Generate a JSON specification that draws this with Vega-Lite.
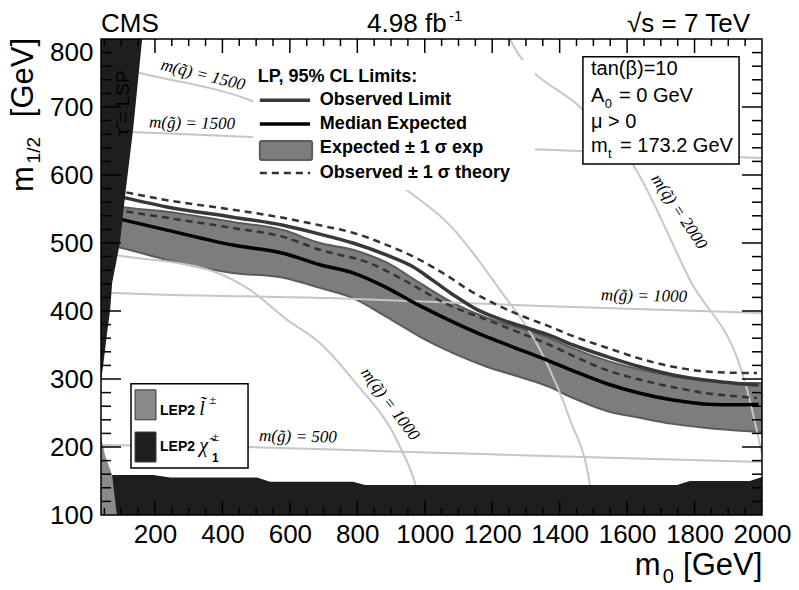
{
"$schema": "https://vega.github.io/schema/vega-lite/v6.json",
"width": 661, "height": 476,
"autosize": {"type": "none"},
"padding": {"left": 101, "top": 39, "right": 37, "bottom": 75},
"background": "white",
"config": {"view": {"stroke": null}, "axis": {"grid": false, "zindex": 1}},
"datasets": {
"band": [{"m0":60,"lo":497,"hi":557},{"m0":90,"lo":494,"hi":554},{"m0":236,"lo":475,"hi":546},{"m0":431,"lo":456,"hi":531},{"m0":580,"lo":449,"hi":519},{"m0":689,"lo":434,"hi":500},{"m0":787,"lo":419,"hi":490},{"m0":888,"lo":391,"hi":471},{"m0":986,"lo":362,"hi":441},{"m0":1084,"lo":338,"hi":412},{"m0":1184,"lo":318,"hi":390},{"m0":1282,"lo":303,"hi":375},{"m0":1371,"lo":288,"hi":360},{"m0":1440,"lo":272,"hi":345},{"m0":1540,"lo":253,"hi":327},{"m0":1638,"lo":243,"hi":314},{"m0":1736,"lo":234,"hi":304},{"m0":1837,"lo":228,"hi":297},{"m0":1935,"lo":224,"hi":294},{"m0":2000,"lo":222,"hi":294}],
"obs": [{"m0":80,"m12":570},{"m0":236,"m12":553},{"m0":431,"m12":538},{"m0":580,"m12":526},{"m0":689,"m12":513},{"m0":787,"m12":500},{"m0":888,"m12":482},{"m0":965,"m12":465},{"m0":1024,"m12":445},{"m0":1084,"m12":424},{"m0":1155,"m12":402},{"m0":1223,"m12":388},{"m0":1303,"m12":375},{"m0":1371,"m12":364},{"m0":1440,"m12":350},{"m0":1540,"m12":333},{"m0":1638,"m12":318},{"m0":1736,"m12":306},{"m0":1837,"m12":298},{"m0":1935,"m12":293},{"m0":1990,"m12":291}],
"exp": [{"m0":80,"m12":537},{"m0":236,"m12":519},{"m0":431,"m12":497},{"m0":580,"m12":485},{"m0":689,"m12":468},{"m0":787,"m12":456},{"m0":888,"m12":434},{"m0":965,"m12":413},{"m0":1066,"m12":388},{"m0":1164,"m12":366},{"m0":1262,"m12":347},{"m0":1371,"m12":326},{"m0":1440,"m12":312},{"m0":1540,"m12":293},{"m0":1638,"m12":279},{"m0":1736,"m12":269},{"m0":1837,"m12":263},{"m0":1935,"m12":262},{"m0":1990,"m12":263}],
"thup": [{"m0":80,"m12":578},{"m0":236,"m12":563},{"m0":431,"m12":549},{"m0":580,"m12":537},{"m0":689,"m12":526},{"m0":787,"m12":515},{"m0":888,"m12":497},{"m0":986,"m12":475},{"m0":1066,"m12":452},{"m0":1134,"m12":430},{"m0":1202,"m12":412},{"m0":1282,"m12":394},{"m0":1371,"m12":377},{"m0":1440,"m12":363},{"m0":1540,"m12":346},{"m0":1638,"m12":330},{"m0":1736,"m12":318},{"m0":1837,"m12":311},{"m0":1935,"m12":309},{"m0":1985,"m12":309}],
"thdn": [{"m0":80,"m12":549},{"m0":236,"m12":537},{"m0":431,"m12":522},{"m0":580,"m12":509},{"m0":689,"m12":490},{"m0":838,"m12":470},{"m0":947,"m12":443},{"m0":1066,"m12":410},{"m0":1184,"m12":387},{"m0":1282,"m12":368},{"m0":1371,"m12":350},{"m0":1440,"m12":334},{"m0":1540,"m12":313},{"m0":1638,"m12":299},{"m0":1736,"m12":288},{"m0":1837,"m12":279},{"m0":1935,"m12":274},{"m0":1985,"m12":272}],
"iso": [
{"curve":"q1000","m0":40,"m12":486},{"curve":"q1000","m0":87,"m12":482},{"curve":"q1000","m0":363,"m12":460},{"curve":"q1000","m0":482,"m12":431},{"curve":"q1000","m0":592,"m12":387},{"curve":"q1000","m0":689,"m12":353},{"curve":"q1000","m0":787,"m12":299},{"curve":"q1000","m0":927,"m12":200},{"curve":"q1000","m0":971,"m12":147},{"curve":"q1000","m0":990,"m12":110},
{"curve":"q1500","m0":40,"m12":765},{"curve":"q1500","m0":147,"m12":751},{"curve":"q1500","m0":482,"m12":710},{"curve":"q1500","m0":935,"m12":582},{"curve":"q1500","m0":1075,"m12":526},{"curve":"q1500","m0":1223,"m12":431},{"curve":"q1500","m0":1342,"m12":343},{"curve":"q1500","m0":1431,"m12":240},{"curve":"q1500","m0":1490,"m12":144},{"curve":"q1500","m0":1500,"m12":110},
{"curve":"q2000","m0":1230,"m12":830},{"curve":"q2000","m0":1253,"m12":799},{"curve":"q2000","m0":1469,"m12":696},{"curve":"q2000","m0":1609,"m12":622},{"curve":"q2000","m0":1786,"m12":446},{"curve":"q2000","m0":1956,"m12":284},{"curve":"q2000","m0":2000,"m12":190},
{"curve":"g1500","m0":40,"m12":665},{"curve":"g1500","m0":147,"m12":663},{"curve":"g1500","m0":482,"m12":656},{"curve":"g1500","m0":1321,"m12":638},{"curve":"g1500","m0":2000,"m12":625},
{"curve":"g1000","m0":40,"m12":428},{"curve":"g1000","m0":67,"m12":427},{"curve":"g1000","m0":719,"m12":419},{"curve":"g1000","m0":1371,"m12":407},{"curve":"g1000","m0":2000,"m12":397},
{"curve":"g500","m0":40,"m12":203},{"curve":"g500","m0":476,"m12":200},{"curve":"g500","m0":927,"m12":193},{"curve":"g500","m0":1282,"m12":188},{"curve":"g500","m0":2000,"m12":178}],
"stau": [{"m12":299,"m0":40},{"m12":318,"m0":46},{"m12":368,"m0":58},{"m12":401,"m0":67},{"m12":441,"m0":73},{"m12":500,"m0":96},{"m12":568,"m0":111},{"m12":666,"m0":135},{"m12":800,"m0":162}],
"chargino": [{"m0":40,"m12":159},{"m0":195,"m12":159},{"m0":245,"m12":155},{"m0":503,"m12":155},{"m0":541,"m12":149},{"m0":787,"m12":149},{"m0":823,"m12":144},{"m0":1748,"m12":144},{"m0":1786,"m12":150},{"m0":1964,"m12":150},{"m0":2000,"m12":156}],
"slepton": [{"m12":100,"m0":87},{"m12":159,"m0":73},{"m12":188,"m0":52},{"m12":215,"m0":40}],
"xmaj": [{"m0":200},{"m0":400},{"m0":600},{"m0":800},{"m0":1000},{"m0":1200},{"m0":1400},{"m0":1600},{"m0":1800}],
"xmin": [{"m0":50},{"m0":100},{"m0":150},{"m0":250},{"m0":300},{"m0":350},{"m0":450},{"m0":500},{"m0":550},{"m0":650},{"m0":700},{"m0":750},{"m0":850},{"m0":900},{"m0":950},{"m0":1050},{"m0":1100},{"m0":1150},{"m0":1250},{"m0":1300},{"m0":1350},{"m0":1450},{"m0":1500},{"m0":1550},{"m0":1650},{"m0":1700},{"m0":1750},{"m0":1850},{"m0":1900},{"m0":1950}],
"ymaj": [{"m12":200},{"m12":300},{"m12":400},{"m12":500},{"m12":600},{"m12":700}],
"ymin": [{"m12":120},{"m12":140},{"m12":160},{"m12":180},{"m12":220},{"m12":240},{"m12":260},{"m12":280},{"m12":320},{"m12":340},{"m12":360},{"m12":380},{"m12":420},{"m12":440},{"m12":460},{"m12":480},{"m12":520},{"m12":540},{"m12":560},{"m12":580},{"m12":620},{"m12":640},{"m12":660},{"m12":680},{"m12":720},{"m12":740},{"m12":760},{"m12":780}],
"boxes": [{"kind":"legbg","m0":491,"m0b":1327,"m12":578,"m12b":769},{"kind":"info","m0":1469,"m0b":1932,"m12":616,"m12b":774},{"kind":"lep","m0":129,"m0b":476,"m12":169,"m12b":293},{"kind":"frame","m0":40,"m0b":2000,"m12":100,"m12b":800}],
"legline": [{"item":"obs","m0":511,"m0b":660,"m12":710},{"item":"exp","m0":511,"m0b":660,"m12":675},{"item":"dash","m0":511,"m0b":660,"m12":603}],
"legrect": [{"item":"band","m0":511,"m0b":666,"m12":622,"m12b":650},{"item":"slep","m0":141,"m0b":203,"m12":240,"m12b":284},{"item":"chi","m0":141,"m0b":203,"m12":178,"m12b":222}],
"hdr": [{"t":"CMS","m0":40,"m12":810},{"t":"4.98 fb","m0":829,"m12":810},{"t":"\u221as = 7 TeV","m0":1600,"m12":810}],
"hdrsup": [{"t":"-1","m0":1072,"m12":826}],
"xtitle": [{"t":"m","m0":1623,"m12":12},{"t":"[GeV]","m0":1766,"m12":12}],
"xsub": [{"t":"0","m0":1706,"m12":0}],
"ytitle": [{"t":"m","m0":-162,"m12":575},{"t":"[GeV]","m0":-162,"m12":685}],
"ysub": [{"t":"1/2","m0":-141,"m12":617}],
"isolab": [{"t":"m(q\u0303) = 1500","grp":"a14","m0":342,"m12":747},{"t":"m(g\u0303) = 1500","grp":"a2","m0":310,"m12":676},{"t":"m(g\u0303) = 1000","grp":"a2","m0":1650,"m12":422},{"t":"m(g\u0303) = 500","grp":"a2","m0":624,"m12":215},{"t":"m(q\u0303) = 1000","grp":"a53","m0":897,"m12":263},{"t":"m(q\u0303) = 2000","grp":"a56","m0":1754,"m12":546}],
"tau": [{"t":"\u03c4\u0303 = LSP","m0":105,"m12":706}],
"legtxt": [{"t":"LP, 95% CL Limits:","m0":505,"m12":744},{"t":"Observed Limit","m0":689,"m12":710},{"t":"Median Expected","m0":689,"m12":675},{"t":"Expected \u00b1 1 \u03c3 exp","m0":689,"m12":640},{"t":"Observed \u00b1 1 \u03c3 theory","m0":689,"m12":603}],
"leptxt": [{"t":"LEP2","m0":215,"m12":253},{"t":"LEP2","m0":215,"m12":200}],
"lepsym": [{"t":"l\u0303","m0":331,"m12":247},{"t":"\u03c7\u0303","m0":331,"m12":193}],
"lepsup": [{"t":"\u00b1","m0":361,"m12":263},{"t":"\u00b1","m0":369,"m12":209}],
"lepsub": [{"t":"1","m0":369,"m12":178}],
"info": [{"t":"tan(\u03b2)=10","m0":1493,"m12":747},{"t":"A","m0":1493,"m12":707},{"t":"= 0 GeV","m0":1576,"m12":707},{"t":"\u03bc > 0","m0":1493,"m12":669},{"t":"m","m0":1493,"m12":634},{"t":"= 173.2 GeV","m0":1579,"m12":634}],
"infosub": [{"t":"0","m0":1534,"m12":699},{"t":"t","m0":1543,"m12":625}]
},
"layer": [
{"data":{"name":"band"},"mark":{"type":"area","clip":true,"fill":"#7d7d7d","stroke":"#5b5b5b","strokeWidth":2,"interpolate":"monotone"},
 "encoding":{
  "x":{"field":"m0","type":"quantitative","scale":{"domain":[40,2000],"nice":false,"zero":false},"axis":{"orient":"bottom","values":[200,400,600,800,1000,1200,1400,1600,1800,2000],"format":"d","ticks":false,"domain":false,"labelFont":"Liberation Sans","labelFontSize":26,"labelColor":"#000","labelPadding":6,"labelFlush":false,"labelOverlap":false,"title":null}},
  "y":{"field":"hi","type":"quantitative","scale":{"domain":[100,800],"nice":false,"zero":false},"axis":{"orient":"left","values":[100,200,300,400,500,600,700,800],"format":"d","ticks":false,"domain":false,"labelFont":"Liberation Sans","labelFontSize":26,"labelColor":"#000","labelPadding":8,"labelFlush":false,"labelOverlap":false,"title":null,"labelBaseline":{"condition":{"test":"datum.value >= 800","value":"top"},"value":"middle"}}},
  "y2":{"field":"lo"}}},
{
"encoding": {
"x": {"field":"m0","type":"quantitative","scale":{"domain":[40,2000],"nice":false,"zero":false},"axis":null},
"y": {"field":"m12","type":"quantitative","scale":{"domain":[100,800],"nice":false,"zero":false},"axis":null}
},
"layer": [
{"data":{"name":"iso"},"mark":{"type":"line","clip":true,"color":"#c6c6c6","strokeWidth":2,"interpolate":"monotone"},"encoding":{"detail":{"field":"curve"}}},
{"data":{"name":"thdn"},"mark":{"type":"line","clip":true,"color":"#333333","strokeWidth":2.5,"strokeDash":[7,5],"interpolate":"monotone"}},
{"data":{"name":"thup"},"mark":{"type":"line","clip":true,"color":"#333333","strokeWidth":2.5,"strokeDash":[7,5],"interpolate":"monotone"}},
{"data":{"name":"exp"},"mark":{"type":"line","clip":true,"color":"#000000","strokeWidth":3.5,"interpolate":"monotone"}},
{"data":{"name":"obs"},"mark":{"type":"line","clip":true,"color":"#383838","strokeWidth":3.5,"interpolate":"monotone"}},
{"data":{"name":"chargino"},"mark":{"type":"area","clip":true,"color":"#1e1e1e","interpolate":"linear"},"encoding":{"y2":{"datum":100}}},
{"data":{"name":"stau"},"mark":{"type":"area","orient":"horizontal","clip":true,"color":"#1e1e1e","interpolate":"linear"},"encoding":{"x2":{"datum":40}}},
{"data":{"name":"slepton"},"mark":{"type":"area","orient":"horizontal","clip":true,"color":"#8a8a8a","interpolate":"linear"},"encoding":{"x2":{"datum":40}}},
{"data":{"name":"isolab"},"transform":[{"filter":"datum.grp == 'a2'"}],"mark":{"type":"text","font":"Liberation Serif","fontStyle":"italic","fontSize":17,"color":"#000","align":"center","baseline":"middle","angle":1},"encoding":{"text":{"field":"t"}}},
{"data":{"name":"isolab"},"transform":[{"filter":"datum.grp == 'a14'"}],"mark":{"type":"text","font":"Liberation Serif","fontStyle":"italic","fontSize":17,"color":"#000","align":"center","baseline":"middle","angle":14},"encoding":{"text":{"field":"t"}}},
{"data":{"name":"isolab"},"transform":[{"filter":"datum.grp == 'a53'"}],"mark":{"type":"text","font":"Liberation Serif","fontStyle":"italic","fontSize":17,"color":"#000","align":"center","baseline":"middle","angle":53},"encoding":{"text":{"field":"t"}}},
{"data":{"name":"isolab"},"transform":[{"filter":"datum.grp == 'a56'"}],"mark":{"type":"text","font":"Liberation Serif","fontStyle":"italic","fontSize":17,"color":"#000","align":"center","baseline":"middle","angle":56},"encoding":{"text":{"field":"t"}}},
{"data":{"name":"tau"},"mark":{"type":"text","font":"Liberation Sans","fontSize":19,"color":"#000","align":"center","baseline":"middle","angle":-90},"encoding":{"text":{"field":"t"}}},
{"data":{"name":"boxes"},"transform":[{"filter":"datum.kind == 'legbg'"}],"mark":{"type":"rect","color":"#ffffff"},"encoding":{"x2":{"field":"m0b"},"y2":{"field":"m12b"}}},
{"data":{"name":"boxes"},"transform":[{"filter":"datum.kind == 'info' || datum.kind == 'lep'"}],"mark":{"type":"rect","fill":"#ffffff","stroke":"#000000","strokeWidth":1.5},"encoding":{"x2":{"field":"m0b"},"y2":{"field":"m12b"}}},
{"data":{"name":"legline"},"transform":[{"filter":"datum.item == 'obs'"}],"mark":{"type":"rule","color":"#383838","strokeWidth":3.5},"encoding":{"x2":{"field":"m0b"}}},
{"data":{"name":"legline"},"transform":[{"filter":"datum.item == 'exp'"}],"mark":{"type":"rule","color":"#000000","strokeWidth":3.5},"encoding":{"x2":{"field":"m0b"}}},
{"data":{"name":"legline"},"transform":[{"filter":"datum.item == 'dash'"}],"mark":{"type":"rule","color":"#333333","strokeWidth":2.5,"strokeDash":[7,5]},"encoding":{"x2":{"field":"m0b"}}},
{"data":{"name":"legrect"},"transform":[{"filter":"datum.item == 'band'"}],"mark":{"type":"rect","fill":"#7d7d7d","stroke":"#5b5b5b","strokeWidth":2,"cornerRadius":2},"encoding":{"x2":{"field":"m0b"},"y2":{"field":"m12b"}}},
{"data":{"name":"legrect"},"transform":[{"filter":"datum.item == 'slep'"}],"mark":{"type":"rect","fill":"#8a8a8a","stroke":"#333333","strokeWidth":1},"encoding":{"x2":{"field":"m0b"},"y2":{"field":"m12b"}}},
{"data":{"name":"legrect"},"transform":[{"filter":"datum.item == 'chi'"}],"mark":{"type":"rect","fill":"#1e1e1e","stroke":"#333333","strokeWidth":1},"encoding":{"x2":{"field":"m0b"},"y2":{"field":"m12b"}}},
{"data":{"name":"legtxt"},"mark":{"type":"text","font":"Liberation Sans","fontWeight":"bold","fontSize":18,"color":"#000","align":"left","baseline":"middle"},"encoding":{"text":{"field":"t"}}},
{"data":{"name":"leptxt"},"mark":{"type":"text","font":"Liberation Sans","fontWeight":"bold","fontSize":14,"color":"#000","align":"left","baseline":"middle"},"encoding":{"text":{"field":"t"}}},
{"data":{"name":"lepsym"},"mark":{"type":"text","font":"Liberation Serif","fontStyle":"italic","fontSize":20,"color":"#000","align":"left","baseline":"alphabetic"},"encoding":{"text":{"field":"t"}}},
{"data":{"name":"lepsup"},"mark":{"type":"text","font":"Liberation Serif","fontSize":13,"color":"#000","align":"left","baseline":"alphabetic"},"encoding":{"text":{"field":"t"}}},
{"data":{"name":"lepsub"},"mark":{"type":"text","font":"Liberation Sans","fontWeight":"bold","fontSize":12,"color":"#000","align":"left","baseline":"alphabetic"},"encoding":{"text":{"field":"t"}}},
{"data":{"name":"info"},"mark":{"type":"text","font":"Liberation Sans","fontSize":20,"color":"#000","align":"left","baseline":"alphabetic"},"encoding":{"text":{"field":"t"}}},
{"data":{"name":"infosub"},"mark":{"type":"text","font":"Liberation Sans","fontSize":13,"color":"#000","align":"left","baseline":"alphabetic"},"encoding":{"text":{"field":"t"}}},
{"data":{"name":"hdr"},"mark":{"type":"text","font":"Liberation Sans","fontSize":26,"color":"#000","align":"left","baseline":"alphabetic"},"encoding":{"text":{"field":"t"}}},
{"data":{"name":"hdrsup"},"mark":{"type":"text","font":"Liberation Sans","fontSize":15,"color":"#000","align":"left","baseline":"alphabetic"},"encoding":{"text":{"field":"t"}}},
{"data":{"name":"xtitle"},"mark":{"type":"text","font":"Liberation Sans","fontSize":31,"color":"#000","align":"left","baseline":"alphabetic"},"encoding":{"text":{"field":"t"}}},
{"data":{"name":"xsub"},"mark":{"type":"text","font":"Liberation Sans","fontSize":20,"color":"#000","align":"left","baseline":"alphabetic"},"encoding":{"text":{"field":"t"}}},
{"data":{"name":"ytitle"},"mark":{"type":"text","font":"Liberation Sans","fontSize":31,"color":"#000","align":"left","baseline":"alphabetic","angle":-90},"encoding":{"text":{"field":"t"}}},
{"data":{"name":"ysub"},"mark":{"type":"text","font":"Liberation Sans","fontSize":19,"color":"#000","align":"left","baseline":"alphabetic","angle":-90},"encoding":{"text":{"field":"t"}}},
{"data":{"name":"boxes"},"transform":[{"filter":"datum.kind == 'frame'"}],"mark":{"type":"rect","filled":false,"color":"#000000","strokeWidth":1.5},"encoding":{"x2":{"field":"m0b"},"y2":{"field":"m12b"}}}
]
},
{"data":{"name":"xmaj"},"mark":{"type":"rule","color":"#000000","strokeWidth":1.5},"encoding":{"x":{"field":"m0","type":"quantitative","scale":{"domain":[40,2000],"nice":false,"zero":false},"axis":null},"y":{"datum":100,"type":"quantitative","scale":{"domain":[100,800],"nice":false,"zero":false},"axis":null},"y2":{"datum":120.6}}},
{"data":{"name":"xmaj"},"mark":{"type":"rule","color":"#000000","strokeWidth":1.5},"encoding":{"x":{"field":"m0","type":"quantitative","scale":{"domain":[40,2000],"nice":false,"zero":false},"axis":null},"y":{"datum":800,"type":"quantitative","scale":{"domain":[100,800],"nice":false,"zero":false},"axis":null},"y2":{"datum":779.4}}},
{"data":{"name":"xmin"},"mark":{"type":"rule","color":"#000000","strokeWidth":1.5},"encoding":{"x":{"field":"m0","type":"quantitative","scale":{"domain":[40,2000],"nice":false,"zero":false},"axis":null},"y":{"datum":100,"type":"quantitative","scale":{"domain":[100,800],"nice":false,"zero":false},"axis":null},"y2":{"datum":110.3}}},
{"data":{"name":"xmin"},"mark":{"type":"rule","color":"#000000","strokeWidth":1.5},"encoding":{"x":{"field":"m0","type":"quantitative","scale":{"domain":[40,2000],"nice":false,"zero":false},"axis":null},"y":{"datum":800,"type":"quantitative","scale":{"domain":[100,800],"nice":false,"zero":false},"axis":null},"y2":{"datum":789.7}}},
{"data":{"name":"ymaj"},"mark":{"type":"rule","color":"#000000","strokeWidth":1.5},"encoding":{"y":{"field":"m12","type":"quantitative","scale":{"domain":[100,800],"nice":false,"zero":false},"axis":null},"x":{"datum":40,"type":"quantitative","scale":{"domain":[40,2000],"nice":false,"zero":false},"axis":null},"x2":{"datum":99.3}}},
{"data":{"name":"ymaj"},"mark":{"type":"rule","color":"#000000","strokeWidth":1.5},"encoding":{"y":{"field":"m12","type":"quantitative","scale":{"domain":[100,800],"nice":false,"zero":false},"axis":null},"x":{"datum":2000,"type":"quantitative","scale":{"domain":[40,2000],"nice":false,"zero":false},"axis":null},"x2":{"datum":1940.7}}},
{"data":{"name":"ymin"},"mark":{"type":"rule","color":"#000000","strokeWidth":1.5},"encoding":{"y":{"field":"m12","type":"quantitative","scale":{"domain":[100,800],"nice":false,"zero":false},"axis":null},"x":{"datum":40,"type":"quantitative","scale":{"domain":[40,2000],"nice":false,"zero":false},"axis":null},"x2":{"datum":69.65}}},
{"data":{"name":"ymin"},"mark":{"type":"rule","color":"#000000","strokeWidth":1.5},"encoding":{"y":{"field":"m12","type":"quantitative","scale":{"domain":[100,800],"nice":false,"zero":false},"axis":null},"x":{"datum":2000,"type":"quantitative","scale":{"domain":[40,2000],"nice":false,"zero":false},"axis":null},"x2":{"datum":1970.35}}}
],
"resolve": {"axis": {"x": "independent", "y": "independent"}}
}
